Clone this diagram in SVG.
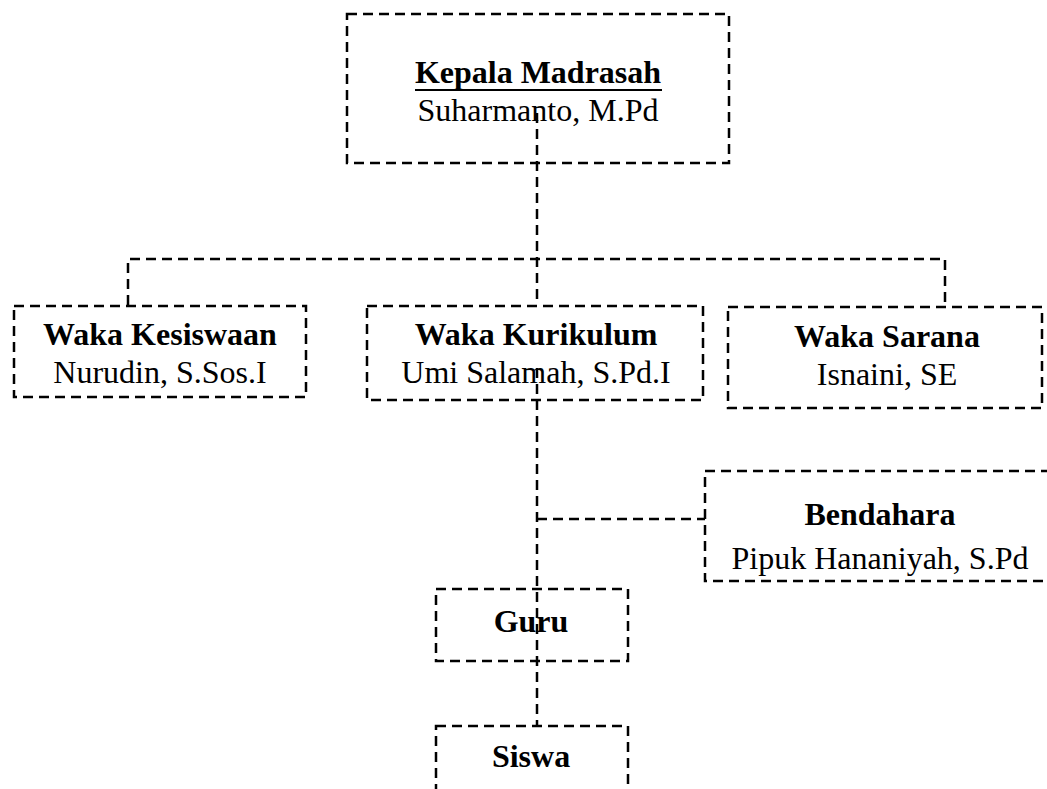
<svg xmlns="http://www.w3.org/2000/svg" width="1047" height="789" viewBox="0 0 1047 789">
<style>
.box{fill:none;stroke:#000;stroke-width:2.5;stroke-dasharray:10 6}
.con{fill:none;stroke:#000;stroke-width:2.5;stroke-dasharray:10 6}
.t{font-family:"Liberation Serif","Times New Roman",serif;font-size:32px;fill:#000;text-anchor:middle}
.b{font-weight:bold}
</style>
<rect width="1047" height="789" fill="#fff"/>
<g id="connectors">
<path class="con" d="M537,113 V300"/>
<path class="con" d="M128,305 V259 H945 V307"/>
<path class="con" d="M537,368 V726"/>
<path class="con" d="M537,519 H705"/>
</g>
<g id="kepala">
<rect class="box" x="347" y="14" width="382" height="149"/>
<text class="t b" x="538" y="83">Kepala Madrasah</text>
<line x1="415" y1="90" x2="662" y2="90" stroke="#000" stroke-width="2.2"/>
<text class="t" x="538" y="121">Suharmanto, M.Pd</text>
</g>
<g id="kesiswaan">
<rect class="box" x="14" y="306" width="292" height="91"/>
<text class="t b" x="160" y="345">Waka Kesiswaan</text>
<text class="t" x="160" y="383">Nurudin, S.Sos.I</text>
</g>
<g id="kurikulum">
<rect class="box" x="367" y="306" width="336" height="94"/>
<text class="t b" x="536" y="345">Waka Kurikulum</text>
<text class="t" x="536" y="383">Umi Salamah, S.Pd.I</text>
</g>
<g id="sarana">
<rect class="box" x="728" y="307" width="314" height="101"/>
<text class="t b" x="887" y="347">Waka Sarana</text>
<text class="t" x="887" y="385">Isnaini, SE</text>
</g>
<g id="bendahara">
<rect class="box" x="705" y="471" width="370" height="110"/>
<text class="t b" x="880" y="525">Bendahara</text>
<text class="t" x="880" y="569">Pipuk Hananiyah, S.Pd</text>
</g>
<g id="guru">
<rect class="box" x="436" y="589" width="192" height="72"/>
<text class="t b" x="531" y="632">Guru</text>
</g>
<g id="siswa">
<rect class="box" x="436" y="726" width="192" height="90"/>
<text class="t b" x="531" y="767">Siswa</text>
</g>
</svg>
